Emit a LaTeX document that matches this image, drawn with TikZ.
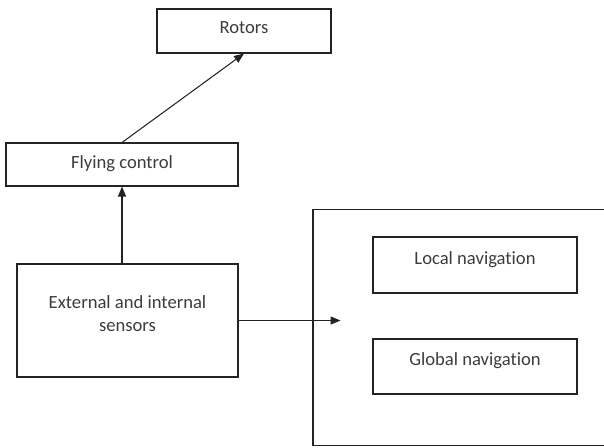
\documentclass[tikz,border=0pt]{standalone}
\usepackage{fontspec}
\setmainfont{Carlito}[Ligatures={NoCommon}]
\usepackage{tikz}
\usetikzlibrary{arrows.meta, positioning}
\definecolor{LineGray}{RGB}{35, 35, 35}
\definecolor{TextGray}{RGB}{60, 60, 60}

\tikzset{
    box/.style={draw=LineGray, line width=0.6pt, rectangle, inner sep=0pt},
    txt/.style={text=TextGray, inner sep=0pt, align=center, font=\fontsize{10.6}{13.5}\selectfont},
    flow/.style={-{Triangle[length=2mm, width=1.6mm]}, draw=LineGray, line width=0.6pt}
}

\begin{document}
\begin{tikzpicture}[x=0.02cm, y=-0.02cm]
    \useasboundingbox (0,0) rectangle (604,447);
    \clip (0,0) rectangle (604,447);

    % --- Boxes ---
    \node[box, minimum width=174*0.02cm, minimum height=44*0.02cm] (rotors) at (244,31) {};
    \node[box, minimum width=232*0.02cm, minimum height=43*0.02cm] (fly) at (122,164.5) {};
    \node[box, minimum width=221*0.02cm, minimum height=113*0.02cm] (sens) at (127.5,320.5) {};

    % navigation block (runs off the page on the right)
    \node[box, minimum width=330*0.02cm, minimum height=236*0.02cm] (nav) at (478,327.5) {};
    \node[box, minimum width=204*0.02cm, minimum height=56*0.02cm] (local) at (475,265) {};
    \node[box, minimum width=204*0.02cm, minimum height=55*0.02cm] (global) at (475,366.5) {};

    % --- Texts ---
    \node[txt, below=0.26cm of rotors.north] (rotorstxt) {Rotors};
    \node[txt, below=0.26cm of fly.north] (flytxt) {Flying control};
    \node[txt, below=0.63cm of sens.north] (senstxt) {External and internal\\sensors};
    \node[txt, below=0.29cm of local.north] (localtxt) {Local navigation};
    \node[txt, below=0.28cm of global.north] (globaltxt) {Global navigation};

    % --- Connectors ---
    \coordinate[right=102*0.02cm of sens.east] (navin);
    \draw[flow] (fly.north) -- (rotors.south);
    \draw[flow] (fly.south |- sens.north) -- (fly.south);
    \draw[flow] (sens.east) -- (navin);
\end{tikzpicture}
\end{document}
